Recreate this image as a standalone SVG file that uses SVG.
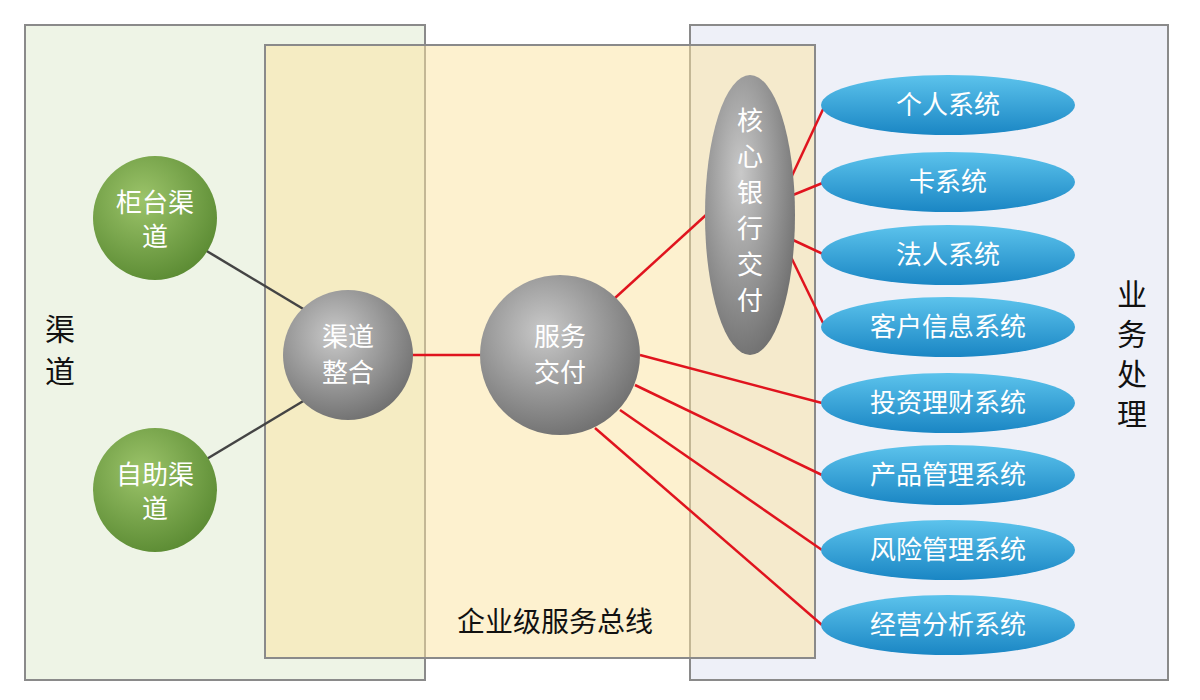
<svg xmlns="http://www.w3.org/2000/svg" width="1200" height="700" viewBox="0 0 1200 700">
<defs>
<radialGradient id="g" cx="40%" cy="35%" r="70%"><stop offset="0" stop-color="#9cc46a"/><stop offset="1" stop-color="#5a8a32"/></radialGradient>
<radialGradient id="s" cx="40%" cy="35%" r="70%"><stop offset="0" stop-color="#c9c9c9"/><stop offset="1" stop-color="#6e6e6e"/></radialGradient>
<linearGradient id="b" x1="0" y1="0" x2="0" y2="1"><stop offset="0" stop-color="#5cc3ec"/><stop offset="1" stop-color="#1a86c4"/></linearGradient>
<style>
.p{stroke:#8a8a8a;stroke-width:2}
.t{font-family:"Noto Sans CJK SC",sans-serif;fill:#fff;font-size:26px;text-anchor:middle}
.k{font-family:"Noto Sans CJK SC",sans-serif;fill:#111;font-size:30px;text-anchor:middle}
.r{stroke:#e0141e;stroke-width:2.5;fill:none}
.gl{stroke:#444;stroke-width:2.5}
</style>
</defs>
<rect width="1200" height="700" fill="#fff"/>
<g id="panels">
<rect x="25" y="25" width="400" height="655" fill="#eef4e6" class="p"/>
<rect x="690" y="25" width="478" height="655" fill="#eef0f8" class="p"/>
<rect x="265" y="45" width="550" height="613" fill="#fbe3a0" fill-opacity="0.5" class="p"/>
</g>
<g id="connectors">
<line class="gl" x1="205" y1="250" x2="305" y2="310"/>
<line class="gl" x1="205" y1="460" x2="305" y2="400"/>
<line class="r" x1="412" y1="355" x2="482" y2="355"/>
<line class="r" x1="615" y1="298" x2="706" y2="215"/>
<line class="r" x1="790" y1="180" x2="825" y2="105"/>
<line class="r" x1="793" y1="195" x2="825" y2="182"/>
<line class="r" x1="793" y1="240" x2="825" y2="255"/>
<line class="r" x1="790" y1="255" x2="825" y2="327"/>
<line class="r" x1="640" y1="355" x2="822" y2="403"/>
<line class="r" x1="635" y1="385" x2="822" y2="475"/>
<line class="r" x1="620" y1="410" x2="822" y2="550"/>
<line class="r" x1="595" y1="428" x2="822" y2="625"/>
</g>
<g id="n1"><circle cx="155" cy="218" r="62" fill="url(#g)"/><text class="t" x="155" y="212">柜台渠</text><text class="t" x="155" y="246">道</text></g>
<g id="n2"><circle cx="155" cy="490" r="62" fill="url(#g)"/><text class="t" x="155" y="484">自助渠</text><text class="t" x="155" y="518">道</text></g>
<g id="n3"><circle cx="348" cy="355" r="65" fill="url(#s)"/><text class="t" x="348" y="346">渠道</text><text class="t" x="348" y="382">整合</text></g>
<g id="n4"><circle cx="560" cy="355" r="80" fill="url(#s)"/><text class="t" x="560" y="346">服务</text><text class="t" x="560" y="382">交付</text></g>
<g id="n5"><ellipse cx="750" cy="215" rx="45" ry="140" fill="url(#s)"/>
<text class="t" x="750" y="130">核</text><text class="t" x="750" y="166">心</text><text class="t" x="750" y="202">银</text><text class="t" x="750" y="238">行</text><text class="t" x="750" y="274">交</text><text class="t" x="750" y="310">付</text></g>
<g id="sys">
<g id="e1"><ellipse cx="948" cy="105" rx="127" ry="30" fill="url(#b)"/><text class="t" x="948" y="114">个人系统</text></g>
<g id="e2"><ellipse cx="948" cy="182" rx="127" ry="30" fill="url(#b)"/><text class="t" x="948" y="191">卡系统</text></g>
<g id="e3"><ellipse cx="948" cy="255" rx="127" ry="30" fill="url(#b)"/><text class="t" x="948" y="264">法人系统</text></g>
<g id="e4"><ellipse cx="948" cy="327" rx="127" ry="30" fill="url(#b)"/><text class="t" x="948" y="336">客户信息系统</text></g>
<g id="e5"><ellipse cx="948" cy="403" rx="127" ry="30" fill="url(#b)"/><text class="t" x="948" y="412">投资理财系统</text></g>
<g id="e6"><ellipse cx="948" cy="475" rx="127" ry="30" fill="url(#b)"/><text class="t" x="948" y="484">产品管理系统</text></g>
<g id="e7"><ellipse cx="948" cy="550" rx="127" ry="30" fill="url(#b)"/><text class="t" x="948" y="559">风险管理系统</text></g>
<g id="e8"><ellipse cx="948" cy="625" rx="127" ry="30" fill="url(#b)"/><text class="t" x="948" y="634">经营分析系统</text></g>
</g>
<g id="labels">
<text class="k" x="60" y="340">渠</text><text class="k" x="60" y="382">道</text>
<text class="k" x="1132" y="305">业</text><text class="k" x="1132" y="345">务</text><text class="k" x="1132" y="385">处</text><text class="k" x="1132" y="425">理</text>
<text class="k" x="555" y="632" style="font-size:28px">企业级服务总线</text>
</g>
</svg>
